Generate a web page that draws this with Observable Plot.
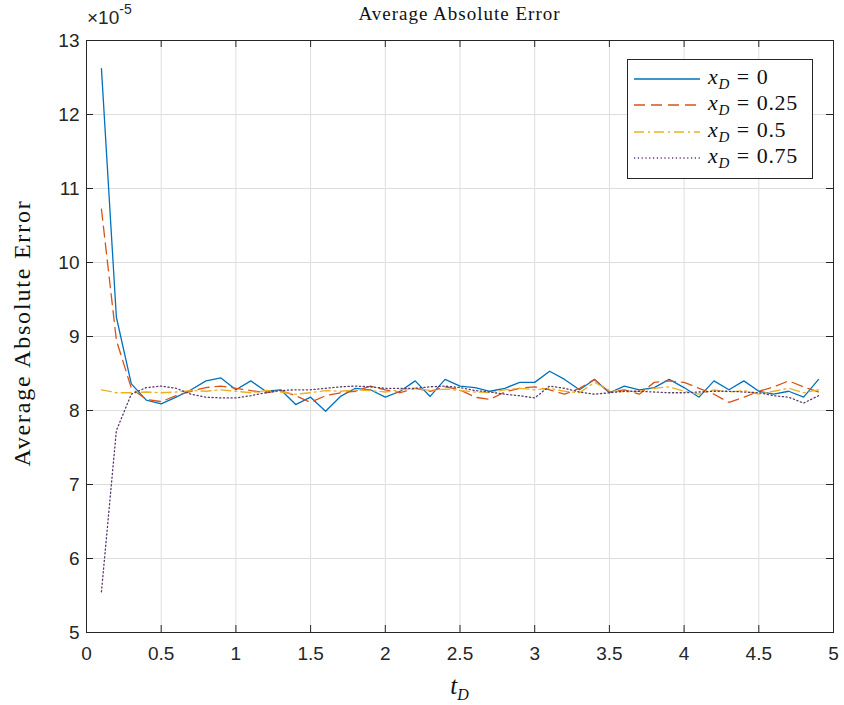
<!DOCTYPE html>
<html><head><meta charset="utf-8">
<script src="https://cdn.jsdelivr.net/npm/d3@7"></script>
<script src="https://cdn.jsdelivr.net/npm/@observablehq/plot@0.6"></script>
<style>
body{margin:0;background:#fff;}
#wrap{position:relative;width:844px;height:705px;overflow:hidden;background:#fff;}
.ov{position:absolute;white-space:nowrap;color:#111;}
.serif{font-family:"Liberation Serif","DejaVu Serif",serif;}
.legend{position:absolute;box-sizing:border-box;border:1px solid #262626;background:#fff;}
.lrow{position:absolute;left:0;height:24px;display:flex;align-items:center;}
.lrow svg{margin-left:6px;}
.ltxt{margin-left:8px;font-family:"Liberation Serif","DejaVu Serif",serif;font-size:22px;color:#111;letter-spacing:0.6px;}
.eq{margin:0 7px;}
</style></head><body><div id="wrap"></div>
<script>
// time points t_D
const tD = [0.1,0.2,0.3,0.4,0.5,0.6,0.7,0.8,0.9,1.0,1.1,1.2,1.3,1.4,1.5,1.6,1.7,1.8,1.9,2.0,
            2.1,2.2,2.3,2.4,2.5,2.6,2.7,2.8,2.9,3.0,3.1,3.2,3.3,3.4,3.5,3.6,3.7,3.8,3.9,4.0,
            4.1,4.2,4.3,4.4,4.5,4.6,4.7,4.8,4.9];
// average absolute error (x 1e-5)
const errX0 = [12.62,9.26,8.36,8.14,8.09,8.18,8.28,8.40,8.44,8.28,8.40,8.26,8.28,8.08,8.18,7.99,8.19,8.30,8.28,8.18,
               8.26,8.40,8.19,8.42,8.33,8.31,8.26,8.30,8.38,8.38,8.53,8.42,8.28,8.42,8.24,8.33,8.28,8.31,8.42,8.31,
               8.18,8.40,8.28,8.40,8.26,8.22,8.26,8.18,8.42];
const errX025 = [10.72,8.95,8.30,8.15,8.12,8.20,8.26,8.31,8.33,8.30,8.27,8.24,8.27,8.20,8.11,8.20,8.24,8.26,8.33,8.28,
                 8.24,8.30,8.26,8.32,8.28,8.18,8.15,8.25,8.30,8.32,8.28,8.22,8.30,8.42,8.25,8.28,8.22,8.38,8.40,8.38,
                 8.30,8.22,8.11,8.18,8.26,8.32,8.40,8.32,8.25];
const errX05 = [8.28,8.24,8.24,8.25,8.24,8.25,8.27,8.26,8.28,8.26,8.24,8.27,8.25,8.22,8.24,8.27,8.26,8.28,8.27,8.25,
                8.28,8.30,8.27,8.29,8.27,8.25,8.24,8.28,8.30,8.28,8.30,8.26,8.24,8.38,8.27,8.25,8.26,8.30,8.32,8.26,
                8.22,8.28,8.25,8.27,8.22,8.26,8.30,8.24,8.28];
const errX075 = [5.55,7.73,8.22,8.31,8.33,8.30,8.22,8.18,8.17,8.17,8.20,8.24,8.27,8.28,8.28,8.30,8.32,8.33,8.32,8.30,
                 8.30,8.30,8.32,8.33,8.31,8.27,8.25,8.22,8.20,8.17,8.33,8.30,8.25,8.22,8.24,8.26,8.26,8.25,8.24,8.24,
                 8.25,8.26,8.26,8.25,8.24,8.20,8.18,8.10,8.20];
const seriesNames = ["0","0.25","0.5","0.75"];
const xTicks = [0,0.5,1,1.5,2,2.5,3,3.5,4,4.5,5];
const xTickLabels = ["0","0.5","1","1.5","2","2.5","3","3.5","4","4.5","5"];
const yTicks = [5,6,7,8,9,10,11,12,13];
const yTickLabels = ["5","6","7","8","9","10","11","12","13"];

const colors = ["#0072BD","#D95319","#EDB120","#5a3a6e"];
const dashes = [null,"11,6","10,4,2,4","1.2,2.6"];
const allVals = [errX0, errX025, errX05, errX075];

const W = 844, H = 705, mL = 86, mR = 11, mT = 40, mB = 73;
const pw = W - mL - mR, ph = H - mT - mB;
const tick = 7;

const lineMarks = allVals.map((vals, k) =>
  Plot.line(tD.map((t, i) => ({t, v: vals[i]})), {
    x: "t", y: "v", stroke: colors[k], strokeWidth: 1.3,
    strokeDasharray: dashes[k] || undefined
  })
);

const chart = Plot.plot({
  width: W, height: H,
  marginLeft: mL, marginRight: mR, marginTop: mT, marginBottom: mB,
  style: {fontFamily: "'Liberation Sans', Arial, sans-serif", fontSize: "19px", color: "#262626", background: "#fff"},
  x: {domain: [0, 5]},
  y: {domain: [5, 13]},
  marks: [
    Plot.gridX(xTicks, {stroke: "#dedede", strokeOpacity: 1}),
    Plot.gridY(yTicks, {stroke: "#dedede", strokeOpacity: 1}),
    ...lineMarks,
    Plot.ruleX(xTicks, {x: d => d, insetTop: ph - tick, stroke: "#262626"}),
    Plot.ruleX(xTicks, {x: d => d, insetBottom: ph - tick, stroke: "#262626"}),
    Plot.ruleY(yTicks, {y: d => d, insetRight: pw - tick, stroke: "#262626"}),
    Plot.ruleY(yTicks, {y: d => d, insetLeft: pw - tick, stroke: "#262626"}),
    Plot.frame({stroke: "#262626"}),
    Plot.axisX(xTicks, {tickSize: 0, tickPadding: 14, label: null, fill: "#262626",
      tickFormat: d => xTickLabels[xTicks.indexOf(d)]}),
    Plot.axisY(yTicks, {tickSize: 0, tickPadding: 7, label: null, fill: "#262626",
      tickFormat: d => yTickLabels[yTicks.indexOf(d)]})
  ]
});

const wrap = document.getElementById("wrap");
wrap.appendChild(chart);

function ov(html, cls, css) {
  const d = document.createElement("div");
  d.className = "ov " + (cls || "");
  d.innerHTML = html;
  Object.assign(d.style, css);
  wrap.appendChild(d);
  return d;
}
// title
ov("Average Absolute Error", "serif", {left: (mL + pw / 2) + "px", top: "14px", transform: "translate(-50%,-50%)", fontSize: "19px", letterSpacing: "1px"});
// exponent
ov("&times;10<sup style='font-size:14px;position:relative;top:-3px'>-5</sup>", "", {left: "87px", top: "4px", fontFamily: "'Liberation Sans',Arial,sans-serif", fontSize: "19px", color: "#262626"});
// y label
ov("Average Absolute Error", "serif", {left: "22px", top: (mT + ph / 2 - 3) + "px", transform: "translate(-50%,-50%) rotate(-90deg)", fontSize: "24px", letterSpacing: "1.8px"});
// x label
ov("<i>t</i><sub style='font-size:16px;font-style:italic'>D</sub>", "serif", {left: (mL + pw / 2) + "px", top: "688px", transform: "translate(-50%,-50%)", fontSize: "25px"});

// legend
const lg = document.createElement("div");
lg.className = "legend";
Object.assign(lg.style, {left: "627px", top: "59px", width: "186px", height: "120px"});
const rowTops = [7, 33, 60, 86];
seriesNames.forEach((n, k) => {
  const r = document.createElement("div");
  r.className = "lrow";
  r.style.top = rowTops[k] + "px";
  r.innerHTML = `<svg width="66" height="10"><line x1="0" x2="66" y1="5" y2="5" stroke="${colors[k]}" stroke-width="1.3" ${dashes[k] ? `stroke-dasharray="${dashes[k]}"` : ""}/></svg>` +
    `<span class="ltxt"><i>x</i><sub style="font-size:15px;font-style:italic">D</sub><span class="eq">=</span>${n}</span>`;
  lg.appendChild(r);
});
wrap.appendChild(lg);
</script>
</body></html>
